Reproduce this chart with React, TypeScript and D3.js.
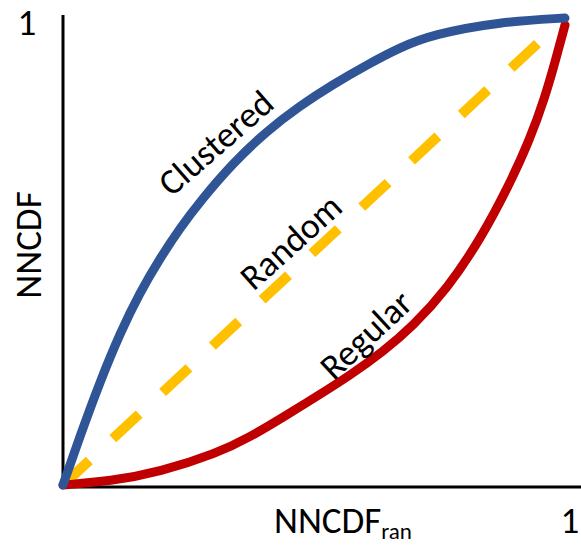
import * as d3 from "d3";
import React from "react";

type Pt = [number, number];

// as fractions of the axis range
const clustered: Pt[] = [
  [0, 0], [0.034, 0.105], [0.074, 0.222], [0.114, 0.326], [0.153, 0.412],
  [0.193, 0.485], [0.233, 0.55], [0.273, 0.607], [0.339, 0.69],
  [0.406, 0.758], [0.472, 0.812], [0.538, 0.858], [0.606, 0.9],
  [0.671, 0.937], [0.737, 0.965], [0.871, 0.992], [1, 1],
];
const regular: Pt[] = [
  [0, 0], [0.094, 0.008], [0.193, 0.028], [0.307, 0.068], [0.373, 0.103],
  [0.438, 0.145], [0.506, 0.19], [0.572, 0.235], [0.637, 0.285],
  [0.697, 0.34], [0.765, 0.42], [0.831, 0.525], [0.89, 0.645],
  [0.93, 0.74], [0.96, 0.83], [0.98, 0.905], [1, 0.985],
];
const random: Pt[] = [[0, 0], [1, 1]];

const tickLabels = ["1", "1"];
const curveLabels = ["Clustered", "Random", "Regular"];

export default function App() {
  const width = 581;
  const height = 545;
  const x = d3.scaleLinear().domain([0, 1]).range([63, 565]);
  const y = d3.scaleLinear().domain([0, 1]).range([485, 18]);

  const line = d3
    .line<Pt>()
    .x((d) => x(d[0]))
    .y((d) => y(d[1]))
    .curve(d3.curveBasis);

  const font = "Calibri, Carlito, 'Open Sans', sans-serif";

  return (
    <svg
      width={width}
      height={height}
      style={{ position: "absolute", left: 0, top: 0 }}
      fontFamily={font}
    >
      <rect width={width} height={height} fill="white" />
      {/* axes */}
      <line x1={x(0)} y1={15} x2={x(0)} y2={487} stroke="black" strokeWidth={3} />
      <line x1={x(0)} y1={487} x2={width} y2={487} stroke="black" strokeWidth={3} />

      <path
        d={line(random) || undefined}
        fill="none"
        stroke="#FFC000"
        strokeWidth={10}
        strokeDasharray="36 32"
      />
      <path
        d={line(regular) || undefined}
        fill="none"
        stroke="#C00000"
        strokeWidth={9}
        strokeLinecap="round"
      />
      <path
        d={line(clustered) || undefined}
        fill="none"
        stroke="#2F5597"
        strokeWidth={9}
        strokeLinecap="round"
      />

      <text x={27} y={35} fontSize={37} textAnchor="middle" fill="black">
        {tickLabels[1]}
      </text>
      <text x={570} y={533} fontSize={37} textAnchor="middle" fill="black">
        {tickLabels[0]}
      </text>

      <text
        transform={`translate(41, 245) rotate(-90)`}
        fontSize={37}
        textAnchor="middle"
        fill="black"
      >
        NNCDF
      </text>
      <text x={274} y={533} fontSize={37} fill="black">
        NNCDF
        <tspan fontSize={23} dy={6}>ran</tspan>
      </text>

      <text
        transform={`translate(216, 143) rotate(-41)`}
        fontSize={36}
        textAnchor="middle"
        dominantBaseline="central"
        fill="black"
      >
        {curveLabels[0]}
      </text>
      <text
        transform={`translate(291, 242) rotate(-42)`}
        fontSize={36}
        textAnchor="middle"
        dominantBaseline="central"
        fill="black"
      >
        {curveLabels[1]}
      </text>
      <text
        transform={`translate(366, 335) rotate(-43)`}
        fontSize={36}
        textAnchor="middle"
        dominantBaseline="central"
        fill="black"
      >
        {curveLabels[2]}
      </text>
    </svg>
  );
}
